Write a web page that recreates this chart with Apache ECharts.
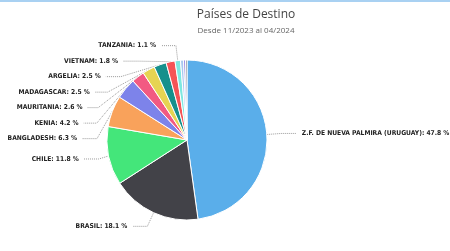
<!DOCTYPE html>
<html><head><meta charset="utf-8">
<script src="https://cdn.jsdelivr.net/npm/echarts@6/dist/echarts.min.js"></script>
<style>html,body{margin:0;padding:0;background:#fff}#c{width:450px;height:251px;border-top:2px solid #a9d1f2;box-sizing:border-box}</style>
</head><body><div id="c"></div>
<script>
const categories = ['Z.F. DE NUEVA PALMIRA (URUGUAY)','BRASIL','CHILE','BANGLADESH','KENIA','MAURITANIA','MADAGASCAR','ARGELIA','VIETNAM','TANZANIA','OTRO 1','OTRO 2','OTRO 3'];
const values = [47.8,18.1,11.8,6.3,4.2,2.6,2.5,2.5,1.8,1.1,0.6,0.4,0.3];
const showLabel = [true,true,true,true,true,true,true,true,true,true,false,false,false];
const colors = ['#5aaeea','#424248','#44e67a','#f9a25b','#7d83ea','#f25a82','#e6d452','#17908c','#f55456','#7ee8e0','#a8c8f0','#9b8ee8','#5a5a66'];
const chart = echarts.init(document.getElementById('c'));
chart.setOption({
  animation:false,
  title:{text:'Países de Destino',subtext:'Desde 11/2023 al 04/2024',left:241,textAlign:'center',top:2,itemGap:6,
    textStyle:{fontFamily:'Open Sans',fontSize:12,fontWeight:'normal',color:'#444'},
    subtextStyle:{fontFamily:'Open Sans',fontSize:8,color:'#666'}},
  series:[{type:'pie',center:[187,138],radius:80,startAngle:90,clockwise:true,
    itemStyle:{borderColor:'#fff',borderWidth:1},
    label:{fontFamily:'DejaVu Sans Condensed',fontSize:6.7,fontWeight:'bold',color:'#222',
      lineHeight:13.5,overflow:'none',
      formatter:p=>p.name+': '+p.value.toFixed(1)+' %'},
    labelLine:{length:15,length2:15,lineStyle:{color:'#999',type:'dotted',width:1}},
    data:categories.map((n,i)=>({name:n,value:values[i],itemStyle:{color:colors[i]},
      label:{show:showLabel[i]},labelLine:{show:showLabel[i]}}))
  }]
});
</script></body></html>
